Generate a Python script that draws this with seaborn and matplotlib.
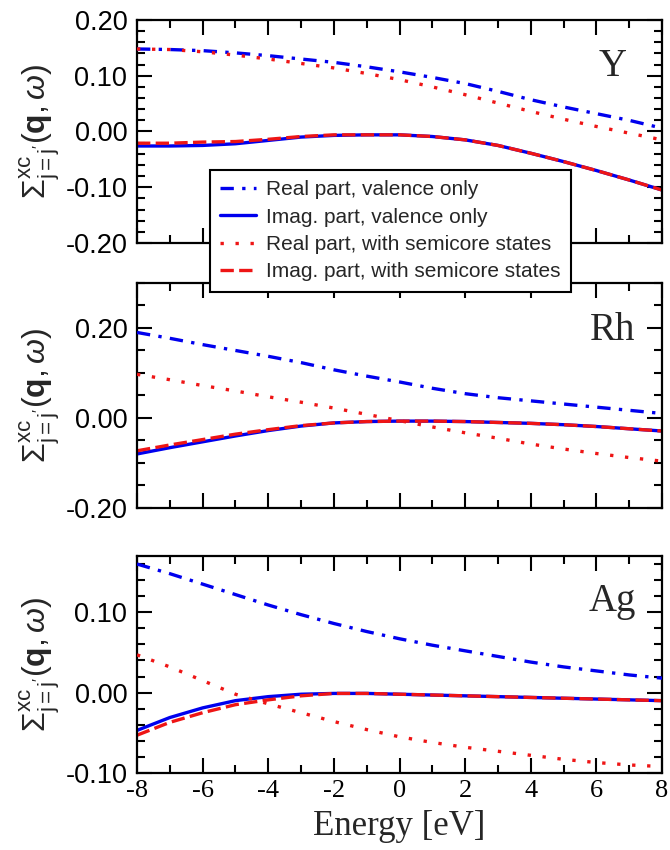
import numpy as np
import pandas as pd
import matplotlib
matplotlib.use("Agg")
import matplotlib.pyplot as plt
import seaborn as sns
from matplotlib.ticker import MultipleLocator, FormatStrFormatter

# ---------------- data ----------------
energy = [-8, -7, -6, -5, -4, -3, -2, -1, 0, 1, 2, 3, 4, 5, 6, 7, 8]

# Y
y_real_val = [0.148, 0.147, 0.145, 0.141, 0.136, 0.130, 0.124, 0.116, 0.107, 0.097, 0.086, 0.072, 0.057, 0.044, 0.032, 0.020, 0.006]
y_imag_val = [-0.026, -0.026, -0.025, -0.022, -0.016, -0.010, -0.007, -0.006, -0.006, -0.009, -0.015, -0.025, -0.039, -0.054, -0.070, -0.087, -0.105]
y_real_semi = [0.148, 0.147, 0.143, 0.137, 0.130, 0.122, 0.114, 0.104, 0.093, 0.080, 0.066, 0.051, 0.036, 0.022, 0.009, -0.003, -0.015]
y_imag_semi = [-0.021, -0.021, -0.019, -0.018, -0.014, -0.009, -0.006, -0.006, -0.006, -0.009, -0.015, -0.025, -0.039, -0.054, -0.070, -0.087, -0.105]

# Rh
rh_real_val = [0.190, 0.177, 0.163, 0.150, 0.137, 0.123, 0.107, 0.093, 0.080, 0.066, 0.054, 0.045, 0.038, 0.031, 0.024, 0.017, 0.010]
rh_imag_val = [-0.080, -0.066, -0.053, -0.040, -0.028, -0.018, -0.011, -0.008, -0.007, -0.007, -0.008, -0.010, -0.012, -0.015, -0.019, -0.024, -0.029]
rh_real_semi = [0.097, 0.085, 0.072, 0.060, 0.047, 0.035, 0.022, 0.008, -0.006, -0.020, -0.033, -0.045, -0.058, -0.069, -0.079, -0.088, -0.096]
rh_imag_semi = [-0.073, -0.060, -0.048, -0.036, -0.026, -0.017, -0.011, -0.008, -0.007, -0.007, -0.008, -0.010, -0.012, -0.015, -0.019, -0.024, -0.029]

# Ag
ag_real_val = [0.160, 0.148, 0.135, 0.122, 0.109, 0.097, 0.086, 0.076, 0.067, 0.059, 0.052, 0.045, 0.038, 0.032, 0.027, 0.022, 0.018]
ag_imag_val = [-0.047, -0.031, -0.019, -0.010, -0.005, -0.002, -0.001, -0.001, -0.002, -0.003, -0.004, -0.005, -0.006, -0.007, -0.008, -0.009, -0.010]
ag_real_semi = [0.047, 0.032, 0.015, -0.002, -0.014, -0.025, -0.036, -0.046, -0.055, -0.062, -0.068, -0.073, -0.078, -0.083, -0.087, -0.090, -0.092]
ag_imag_semi = [-0.053, -0.037, -0.025, -0.015, -0.009, -0.004, -0.001, -0.001, -0.002, -0.003, -0.004, -0.005, -0.006, -0.007, -0.008, -0.009, -0.010]

panel_names = ["Y", "Rh", "Ag"]
series_labels = ["Real part, valence only", "Imag. part, valence only",
                 "Real part, with semicore states", "Imag. part, with semicore states"]
y_ticks_major = [0.1, 0.2, 0.1]
y_ticks_minor = [0.02, 0.05, 0.02]
y_limits = [(-0.2, 0.2), (-0.2, 0.3), (-0.1, 0.17)]

# ---------------- style ----------------
sns.set_style("ticks")
plt.rcParams["font.family"] = ["Liberation Sans", "DejaVu Sans"]
plt.rcParams["axes.unicode_minus"] = False
plt.rcParams["mathtext.fontset"] = "custom"
plt.rcParams["mathtext.rm"] = "Liberation Sans"
plt.rcParams["mathtext.it"] = "Liberation Sans:italic"
plt.rcParams["mathtext.bf"] = "Liberation Sans:bold"

BLUE = "#0000ee"
RED = "#ee1515"
styles = [
    dict(color=BLUE, linestyle=(0, (4, 2.5, 1, 2.5)), zorder=3),   # real valence
    dict(color=BLUE, linestyle="-", zorder=2),                      # imag valence
    dict(color=RED, linestyle=(0, (1, 3.5)), zorder=3),             # real semicore
    dict(color=RED, linestyle=(0, (4, 1.6)), zorder=2.5),           # imag semicore
]

fig = plt.figure(figsize=(6.7, 8.5), dpi=100)
left, width = 0.2045, 0.7836
boxes = [(0.7141, 0.2624), (0.4024, 0.2647), (0.0906, 0.2553)]

data = [
    [y_real_val, y_imag_val, y_real_semi, y_imag_semi],
    [rh_real_val, rh_imag_val, rh_real_semi, rh_imag_semi],
    [ag_real_val, ag_imag_val, ag_real_semi, ag_imag_semi],
]

axes = []
for i, (bottom, h) in enumerate(boxes):
    ax = fig.add_axes([left, bottom, width, h])
    axes.append(ax)
    for j in [1, 3, 0, 2]:
        df = pd.DataFrame({"Energy": energy, "Sigma": data[i][j]})
        sns.lineplot(data=df, x="Energy", y="Sigma", ax=ax, lw=2.4,
                     label=series_labels[j], legend=False,
                     dash_capstyle="butt", **styles[j])
    ax.set_xlim(-8, 8)
    ax.set_ylim(*y_limits[i])
    ax.xaxis.set_major_locator(MultipleLocator(2))
    ax.xaxis.set_minor_locator(MultipleLocator(1))
    ax.yaxis.set_major_locator(MultipleLocator(y_ticks_major[i]))
    ax.yaxis.set_minor_locator(MultipleLocator(y_ticks_minor[i]))
    ax.yaxis.set_major_formatter(FormatStrFormatter("%.2f"))
    ax.tick_params(which="both", direction="in", top=True, right=True,
                   width=1.5, colors="black")
    ax.tick_params(which="major", length=11)
    ax.tick_params(which="minor", length=6)
    ax.tick_params(axis="y", labelsize=19.5, pad=7)
    ax.tick_params(axis="x", labelsize=19, labelfontfamily="Liberation Serif", pad=5)
    for s in ax.spines.values():
        s.set_linewidth(1.6)
        s.set_color("black")
    ax.set_xlabel("")
    ax.set_ylabel(r"$\Sigma^{\mathrm{xc}}_{\mathrm{j=j'}}(\mathbf{q},\omega)$",
                  fontsize=23)
    ax.yaxis.set_label_coords(-0.142, 0.5)
    if i < 2:
        ax.tick_params(axis="x", labelbottom=False)
    ax.text(0.905, 0.79, panel_names[i], transform=ax.transAxes,
            ha="center", va="center", fontsize=28, family="Liberation Serif")

axes[2].set_xlabel("Energy [eV]", fontsize=25, family="Liberation Serif", labelpad=6)

handles, labels = axes[0].get_legend_handles_labels()
order = [labels.index(l) for l in series_labels]
leg = fig.legend([handles[k] for k in order], [labels[k] for k in order],
                 loc="upper left", bbox_to_anchor=(0.313, 0.800),
                 fontsize=15, frameon=True, fancybox=False, framealpha=1,
                 edgecolor="black", handlelength=1.7, handletextpad=0.5,
                 labelspacing=0.4, borderpad=0.5, borderaxespad=0)
leg.get_frame().set_linewidth(1.5)

fig.savefig("out.png", dpi=100)
